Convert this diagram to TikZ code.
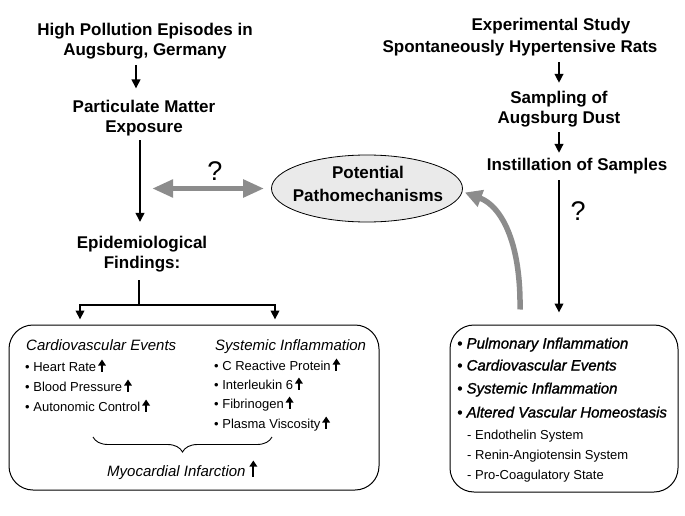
\documentclass[tikz,border=0pt]{standalone}
\usepackage{fontspec}
\setmainfont{Liberation Sans}
\newfontfamily\heavyfont[FakeBold=1.4]{Liberation Sans}
\usetikzlibrary{arrows.meta,shapes.geometric,decorations.pathreplacing}
\definecolor{garr}{RGB}{140,140,140}
\definecolor{ellfill}{RGB}{234,234,234}
\newcommand\uarr[1][12]{\hspace{2pt}\tikz[baseline=0pt]\draw[line width=2pt,-{Triangle[width=7.5pt,length=6pt]}] (0pt,0pt)--(0pt,#1pt);}
\begin{document}
\begin{tikzpicture}[x=1pt,y=-1pt,
  title/.style={font=\bfseries\fontsize{17}{20}\selectfont, align=center, inner sep=0pt},
  blk/.style={line width=2.2pt, -{Triangle[width=8.5pt,length=9pt]}},
  garrow/.style={draw=garr, line width=5.5pt},
  box/.style={draw, line width=1pt, rounded corners=24pt, inner sep=0pt},
  head/.style={font=\itshape\fontsize{15}{18}\selectfont, anchor=base west, inner sep=0pt},
  rhead/.style={font=\heavyfont\itshape\fontsize{15}{18}\selectfont, anchor=base west, inner sep=0pt},
  item/.style={font=\fontsize{13}{16}\selectfont, anchor=base west, inner sep=0pt},
  qm/.style={font=\fontsize{27}{30}\selectfont, inner sep=0pt}]
\useasboundingbox (0,0) rectangle (685,516);

% left column
\node[title] (hp) at (145,41.6) {High Pollution Episodes in\\Augsburg, Germany};
\node[title] (pm) at (144,118.6) {Particulate Matter\\Exposure};
\node[title] (ef) at (142,254.6) {Epidemiological\\Findings:};

% right column
\node[title] (es) at (551,26.6) {Experimental Study};
\node[title] (sh) at (520,48.6) {Spontaneously Hypertensive Rats};
\node[title] (sa) at (559,109.6) {Sampling of\\Augsburg Dust};
\node[title] (is) at (577,166.6) {Instillation of Samples};

% ellipse
\node[ellipse, draw, line width=0.8pt, fill=ellfill, minimum width=191pt, minimum height=67pt, inner sep=0pt] (pp) at (367,188.5) {};
\node[font=\bfseries\fontsize{17}{23}\selectfont, align=center, inner sep=0pt] (ppt) at (368,183.5) {Potential\\Pathomechanisms};

% boxes
\node[box, minimum width=370pt, minimum height=165pt] (lb) at (194,407.5) {};
\node[box, minimum width=228pt, minimum height=167pt] (rb) at (564,408.5) {};

% left box content
\node[head] (cv) at (26,350.5) {Cardiovascular Events};
\node[head] (si) at (215,350.5) {Systemic Inflammation};
\node[item] (hr) at (25,371.5) {• Heart Rate\uarr};
\node[item] (bp) at (25,391.5) {• Blood Pressure\uarr};
\node[item] (ac) at (25,411.5) {• Autonomic Control\uarr};
\node[item] (cr) at (214,370.5) {• C Reactive Protein\uarr};
\node[item] (il) at (214,389.5) {• Interleukin 6\uarr};
\node[item] (fi) at (214,408.5) {• Fibrinogen\uarr};
\node[item] (pv) at (214,428.5) {• Plasma Viscosity\uarr};
\draw[line width=0.9pt, decorate, decoration={brace, amplitude=15pt, mirror}] (93,437) -- (272,437);
\node[head] (mi) at (107,476.5) {Myocardial Infarction\hspace{2pt}\uarr[16]};

% right box content
\node[rhead] (r1) at (457,348.5) {• Pulmonary Inflammation};
\node[rhead] (r2) at (457,370.5) {• Cardiovascular Events};
\node[rhead] (r3) at (457,393.5) {• Systemic Inflammation};
\node[rhead] (r4) at (457,417.5) {• Altered Vascular Homeostasis};
\node[item] (s1) at (467,439.5) {- Endothelin System};
\node[item] (s2) at (467,459.5) {- Renin-Angiotensin System};
\node[item] (s3) at (467,479.5) {- Pro-Coagulatory State};

% question marks
\node[qm] (q1) at (215,171) {?};
\node[qm] (q2) at (578,211) {?};

% black connectors
\draw[blk] ([xshift=-9pt,yshift=-5pt]hp.south) -- ([xshift=-8pt,yshift=12pt]pm.north);
\draw[blk] ([xshift=-4pt,yshift=-3.5pt]pm.south) -- ([xshift=-2pt,yshift=14.5pt]ef.north);
\draw[line width=2.2pt] ([xshift=-3pt,yshift=-7.4pt]ef.south) -- ++(0,25) coordinate (br);
\draw[blk] (br) -| ([xshift=-114pt,yshift=5pt]lb.north);
\draw[blk] (br) -| ([xshift=81pt,yshift=5pt]lb.north);

\draw[blk] ([xshift=39pt,yshift=-5.4pt]sh.south) -- ([xshift=0pt,yshift=8.6pt]sa.north);
\draw[blk] ([xshift=0pt,yshift=-4.4pt]sa.south) -- ([xshift=-18pt,yshift=5.6pt]is.north);
\draw[blk] ([xshift=-18pt,yshift=-5.4pt]is.south) -- ([xshift=-5pt,yshift=12pt]rb.north);

% grey connectors
\draw[garrow, {Triangle[width=17pt,length=21pt]}-{Triangle[width=17pt,length=21pt]}] ([xshift=-119pt]pp.west) -- ([xshift=-7pt]pp.west);
\draw[garrow, -{Triangle[width=17pt,length=17pt]}] ([xshift=-44pt,yshift=15pt]rb.north) .. controls +(1,-70) and +(35,13) .. ([xshift=2pt,yshift=-4pt]pp.east);
\end{tikzpicture}
\end{document}
